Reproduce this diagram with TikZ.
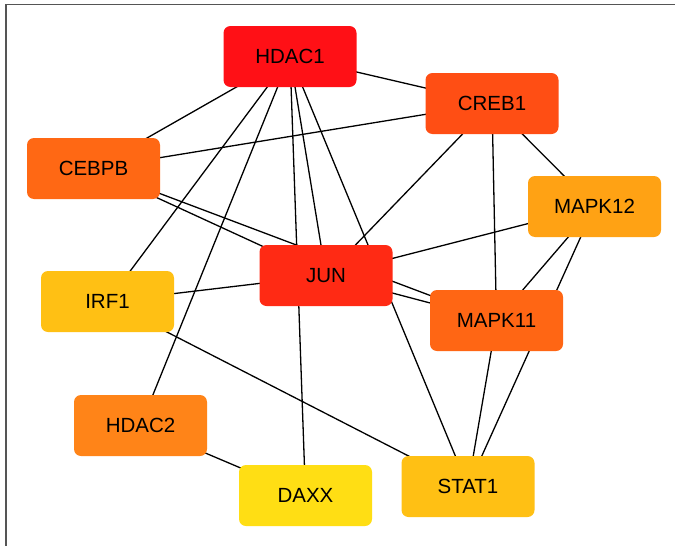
\documentclass[tikz,border=0pt]{standalone}
\usepackage{fontspec}
\setmainfont{Liberation Sans}
\pgfdeclarelayer{edges}
\pgfdeclarelayer{paper}
\pgfsetlayers{paper,edges,main}
\definecolor{cHDACa}{RGB}{255,16,22}
\definecolor{cCREB}{RGB}{255,78,20}
\definecolor{cCEBPB}{RGB}{255,104,20}
\definecolor{cMAPKb}{RGB}{255,162,20}
\definecolor{cJUN}{RGB}{255,42,20}
\definecolor{cIRF}{RGB}{255,192,20}
\definecolor{cMAPKa}{RGB}{255,102,20}
\definecolor{cHDACb}{RGB}{255,132,24}
\definecolor{cDAXX}{RGB}{255,222,20}
\definecolor{cSTAT}{RGB}{255,192,20}
\definecolor{frame}{RGB}{85,85,85}
\tikzset{
  gene/.style={rectangle, rounded corners=7pt, minimum width=133pt,
    minimum height=61pt, inner sep=0pt, draw=none,
    font=\fontsize{20.5}{24}\selectfont},
  link/.style={line width=1.3pt, black}
}
\begin{document}
\begin{tikzpicture}[x=1pt, y=-1pt]
\useasboundingbox (0,0) rectangle (675,546);
\begin{pgfonlayer}{paper}
\fill[white] (0,0) rectangle (675,546);
% frame (top and left edges)
\draw[frame, line width=1.4pt] (6,546) -- (6,4.5) -- (675,4.5);
\end{pgfonlayer}

% genes
\node[gene, fill=cHDACa] (HDAC1) at (290,56.5) {HDAC1};
\node[gene, fill=cCREB]  (CREB1) at (492,103.5) {CREB1};
\node[gene, fill=cCEBPB] (CEBPB) at (93.5,168.5) {CEBPB};
\node[gene, fill=cMAPKb] (MAPK12) at (594.5,206.5) {MAPK12};
\node[gene, fill=cJUN]   (JUN) at (326,275.5) {JUN};
\node[gene, fill=cIRF]   (IRF1) at (107.5,301.5) {IRF1};
\node[gene, fill=cMAPKa] (MAPK11) at (496.5,320.5) {MAPK11};
\node[gene, fill=cHDACb] (HDAC2) at (140.5,425.5) {HDAC2};
\node[gene, fill=cDAXX]  (DAXX) at (305.5,495.5) {DAXX};
\node[gene, fill=cSTAT]  (STAT1) at (468,486.5) {STAT1};

% interactions, centre to centre, behind the boxes
\begin{pgfonlayer}{edges}
\foreach \a/\b in {HDAC1/CREB1, HDAC1/CEBPB, HDAC1/IRF1, HDAC1/HDAC2,
    HDAC1/JUN, HDAC1/DAXX, HDAC1/STAT1, CREB1/CEBPB, CREB1/JUN,
    CREB1/MAPK11, CREB1/MAPK12, CEBPB/JUN, CEBPB/MAPK11, IRF1/JUN,
    IRF1/STAT1, JUN/MAPK12, JUN/MAPK11, MAPK11/MAPK12, MAPK11/STAT1,
    MAPK12/STAT1, HDAC2/DAXX}
  \draw[link] (\a.center) -- (\b.center);
\end{pgfonlayer}
\end{tikzpicture}
\end{document}
